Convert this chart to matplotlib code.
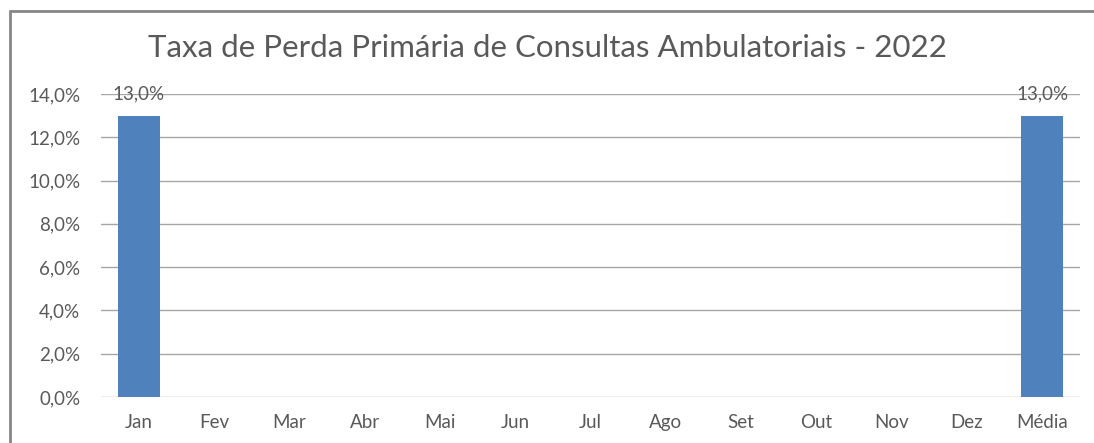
import matplotlib.pyplot as plt
from matplotlib.patches import Rectangle
from matplotlib.ticker import FuncFormatter
import numpy as np

meses = ["Jan", "Fev", "Mar", "Abr", "Mai", "Jun", "Jul", "Ago", "Set", "Out", "Nov", "Dez", "Média"]
taxa = [13.0, None, None, None, None, None, None, None, None, None, None, None, 13.0]
titulo = "Taxa de Perda Primária de Consultas Ambulatoriais - 2022"

plt.rcParams['font.family'] = ['Lato', 'DejaVu Sans']

fig = plt.figure(figsize=(10.94, 4.43), dpi=100)
ax = fig.add_axes([101/1094, 1-397/443, (1080-101)/1094, (397-94)/443])

# borda externa do grafico
fig.patches.append(Rectangle((9.5/1094, -0.05), 1.1, 1-11/443+0.05, transform=fig.transFigure,
                             fill=False, edgecolor="#868686", linewidth=2))

x = np.arange(len(meses))
vals = [v if v is not None else 0 for v in taxa]
ax.bar(x, vals, width=0.56, color="#4F81BD", zorder=3)
for i, v in enumerate(taxa):
    if v is not None:
        ax.text(i, 14.0, f"{v:.1f}%".replace(".", ","), ha="center", va="center",
                fontsize=13.5, color="#595959", zorder=4)

ax.set_xlim(-0.5, len(meses) - 0.5)
ax.set_ylim(0, 14)
ax.set_yticks(np.arange(0, 14.1, 2))
ax.yaxis.set_major_formatter(FuncFormatter(lambda v, p: f"{v:.1f}%".replace(".", ",")))
ax.set_xticks(x)
ax.set_xticklabels(meses)
ax.grid(axis="y", color="#A6A6A6", linewidth=1, zorder=0)
for s in ax.spines.values():
    s.set_visible(False)
ax.tick_params(length=0, labelsize=13.5, labelcolor="#595959")
ax.tick_params(axis="y", pad=15)
ax.tick_params(axis="x", pad=12)

fig.text(0.5, 1-48/443, titulo, ha="center", va="center", fontsize=22.5, color="#595959")

fig.savefig("out.png", dpi=100)
